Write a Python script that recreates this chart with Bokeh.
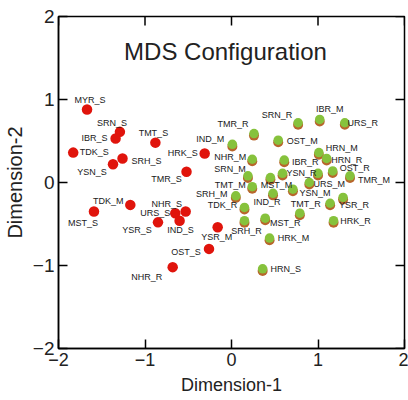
from bokeh.plotting import figure
from bokeh.models import FixedTicker, Label, ColumnDataSource, Range1d
from bokeh.core.properties import value
from bokeh.embed import file_html
from bokeh.resources import INLINE

# ---- data ----
red_names = ["MYR_S", "SRN_S", "IBR_S", "TMT_S", "TDK_S", "SRH_S", "YSN_S", "HRK_S", "TMR_S",
             "TDK_M", "MST_S", "NHR_S", "URS_S", "IND_S", "YSR_S", "YSR_M", "OST_S", "NHR_R"]
red_x = [-1.67, -1.29, -1.34, -0.88, -1.83, -1.26, -1.37, -0.31, -0.52,
         -1.17, -1.59, -0.53, -0.65, -0.60, -0.85, -0.16, -0.26, -0.68]
red_y = [0.88, 0.61, 0.53, 0.48, 0.36, 0.29, 0.22, 0.35, 0.13,
         -0.27, -0.35, -0.35, -0.37, -0.46, -0.48, -0.54, -0.80, -1.02]

green_names = ["SRN_R", "IBR_M", "URS_R", "TMR_R", "IND_M", "OST_M", "HRN_M", "NHR_M", "IBR_R",
               "HRN_R", "SRN_M", "YSN_R", "MYR_M", "OST_R", "TMR_M", "MST_M", "TMT_M", "URS_M",
               "SRH_M", "IND_R", "YSN_M", "MYR_R", "YSR_R", "TDK_R", "TMT_R", "SRH_R", "MST_R",
               "HRK_R", "HRK_M", "HRN_S"]
green_x = [0.77, 1.02, 1.31, 0.26, 0.01, 0.54, 1.01, 0.24, 0.61,
           1.10, 0.19, 0.59, 1.00, 1.17, 1.37, 0.45, 0.24, 0.90,
           0.05, 0.48, 0.71, 1.29, 1.14, 0.15, 0.79, 0.15, 0.39,
           1.18, 0.44, 0.36]
green_y = [0.72, 0.76, 0.72, 0.59, 0.46, 0.51, 0.36, 0.28, 0.27,
           0.29, 0.08, 0.11, 0.11, 0.14, 0.08, 0.06, -0.05, 0.00,
           -0.16, -0.13, -0.08, -0.18, -0.25, -0.30, -0.37, -0.46, -0.43,
           -0.46, -0.67, -1.04]

hidden_labels = {"MYR_M", "MYR_R"}   # points whose labels are not visible in the picture

ticks = [-2, -1, 0, 1, 2]
title_text = "MDS Configuration"
x_title = "Dimension-1"
y_title = "Dimension-2"

# ---- label placement (style, screen pixels: label centre relative to point) ----
label_off = {
    "MYR_S": (3, -9), "SRN_S": (-8, -9), "IBR_S": (-21, -1), "TMT_S": (-2, -10),
    "TDK_S": (21, -1), "SRH_S": (24, 3), "YSN_S": (-21, 8), "HRK_S": (-22, 0),
    "TMR_S": (-20, 7), "TDK_M": (-22, -4), "MST_S": (-11, 11), "NHR_S": (-19, -8),
    "URS_S": (-20, 0), "IND_S": (1, 9), "YSR_S": (-21, 8), "YSR_M": (-1, 10),
    "OST_S": (-23, 3), "NHR_R": (-26, 10),
    "SRN_R": (-21, -8), "IBR_M": (10, -10), "URS_R": (18, 0), "TMR_R": (-21, -10),
    "IND_M": (-22, -5), "OST_M": (24, 1), "HRN_M": (23, -5), "NHR_M": (-22, -2),
    "IBR_R": (21, 2), "HRN_R": (20, 2), "SRN_M": (-18, -7), "YSN_R": (19, 0),
    "OST_R": (22, -3), "TMR_M": (24, 4), "MST_M": (6, 7), "TMT_M": (-22, -2),
    "URS_M": (20, 1), "SRH_M": (-24, -2), "IND_R": (-6, 9), "YSN_M": (22, 4),
    "YSR_R": (24, 2), "TDK_R": (-22, -2), "TMT_R": (6, -9), "SRH_R": (2, 10),
    "MST_R": (20, 5), "HRK_R": (22, 0), "HRK_M": (24, 0), "HRN_S": (23, 0),
}

FONT = "Liberation Sans"
FW, FH = 346, 332
TICK_PX = 9

p = figure(frame_width=FW, frame_height=FH, output_backend="svg", toolbar_location=None,
           x_range=Range1d(-2, 2), y_range=Range1d(-2, 2),
           min_border_left=10, min_border_right=4, min_border_top=16, min_border_bottom=10,
           background_fill_color="white", border_fill_color="white")
p.xgrid.visible = False
p.ygrid.visible = False
p.outline_line_color = "black"
p.outline_line_width = 1.5

for ax, fs, lfs in ((p.xaxis[0], "18px", "18px"), (p.yaxis[0], "19px", "20px")):
    ax.ticker = FixedTicker(ticks=ticks)
    ax.major_tick_in = TICK_PX
    ax.major_tick_out = 0
    ax.minor_tick_line_color = None
    ax.axis_line_color = "black"
    ax.axis_line_width = 1.5
    ax.major_tick_line_color = "black"
    ax.major_tick_line_width = 1.5
    ax.major_label_text_font = FONT
    ax.major_label_text_color = "#222222"
    ax.major_label_standoff = 4
    ax.major_label_text_font_size = fs
    ax.axis_label_text_font = FONT
    ax.axis_label_text_font_size = lfs
    ax.axis_label_text_font_style = "normal"
    ax.axis_label_text_color = "#222222"
p.xaxis[0].axis_label = x_title
p.yaxis[0].axis_label = y_title
p.xaxis[0].axis_label_standoff = 6
p.yaxis[0].axis_label_standoff = 4

# inward ticks on the top and right sides of the box
x0, x1 = p.x_range.start, p.x_range.end
y0, y1 = p.y_range.start, p.y_range.end
ty = TICK_PX * (y1 - y0) / FH
tx = TICK_PX * (x1 - x0) / FW
p.segment(x0=ticks, x1=ticks, y0=[y1] * len(ticks), y1=[y1 - ty] * len(ticks),
          line_color="black", line_width=1.5)
p.segment(x0=[x1] * len(ticks), x1=[x1 - tx] * len(ticks), y0=ticks, y1=ticks,
          line_color="black", line_width=1.5)

# ---- points ----
red_src = ColumnDataSource(dict(x=red_x, y=red_y, name=red_names))
green_src = ColumnDataSource(dict(x=green_x, y=green_y, name=green_names,
                                  y_sh=[v - 0.025 for v in green_y]))

p.scatter("x", "y_sh", source=green_src, size=10, fill_color="#b8662c", line_color=None)
p.scatter("x", "y", source=green_src, size=9.5, fill_color="#86c23c", line_color=None)
p.scatter("x", "y", source=red_src, size=10.5, fill_color="#e0140c", line_color=None)

# ---- labels ----
lx, ly, lt, dx, dy = [], [], [], [], []
for names, xs, ys in ((red_names, red_x, red_y), (green_names, green_x, green_y)):
    for n, xv, yv in zip(names, xs, ys):
        if n in hidden_labels:
            continue
        ox, oy = label_off[n]
        lx.append(xv); ly.append(yv); lt.append(n); dx.append(ox); dy.append(oy)
lab_src = ColumnDataSource(dict(x=lx, y=ly, text=lt, dx=dx, dy=dy))
p.text("x", "y", text="text", source=lab_src, x_offset="dx", y_offset="dy",
       text_align="center", text_baseline="middle", text_font=value(FONT),
       text_font_size="9px", text_color="#1a1a1a")

p.add_layout(Label(x=-0.07, y=1.58, text=title_text, text_align="center",
                   text_baseline="middle", text_font=FONT, text_font_size="24px",
                   text_color="#222222"))

open("out.html", "w").write(file_html(p, INLINE))
